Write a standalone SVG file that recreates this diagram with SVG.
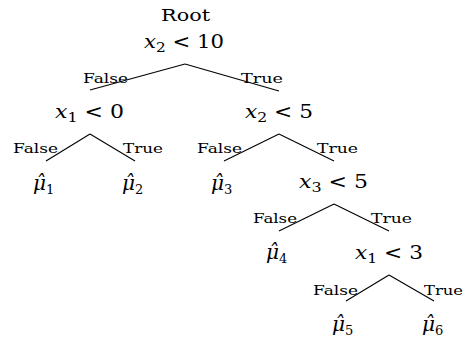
<svg xmlns="http://www.w3.org/2000/svg" width="465" height="342" viewBox="0 0 465 342">
<style>
text{font-family:'DejaVu Serif','Liberation Serif',serif;fill:#000}
.m{font-size:18px}
.mu{font-size:20px}
.i{font-style:italic}
.s{font-size:13px}
.lbl{font-size:13px}
.root{font-size:17px}
line{stroke:#000;stroke-width:1.1}
</style>
<rect width="465" height="342" fill="#fff"/>
<g id="connectors">
<line x1="185" y1="64" x2="90" y2="90"/>
<line x1="185" y1="64" x2="279" y2="91"/>
<line x1="90" y1="134" x2="46" y2="161"/>
<line x1="90" y1="134" x2="135" y2="161"/>
<line x1="279" y1="134" x2="224" y2="161"/>
<line x1="279" y1="134" x2="334" y2="161"/>
<line x1="334" y1="204" x2="279" y2="231"/>
<line x1="334" y1="204" x2="389" y2="231"/>
<line x1="389" y1="275" x2="346" y2="301"/>
<line x1="389" y1="275" x2="434" y2="301"/>
<text class="lbl" x="83" y="83" textLength="45" lengthAdjust="spacingAndGlyphs">False</text>
<text class="lbl" x="241" y="83" textLength="42" lengthAdjust="spacingAndGlyphs">True</text>
<text class="lbl" x="13" y="153" textLength="45" lengthAdjust="spacingAndGlyphs">False</text>
<text class="lbl" x="123" y="153" textLength="40" lengthAdjust="spacingAndGlyphs">True</text>
<text class="lbl" x="197" y="153" textLength="45" lengthAdjust="spacingAndGlyphs">False</text>
<text class="lbl" x="317" y="153" textLength="41" lengthAdjust="spacingAndGlyphs">True</text>
<text class="lbl" x="253" y="223" textLength="44" lengthAdjust="spacingAndGlyphs">False</text>
<text class="lbl" x="371" y="223" textLength="41" lengthAdjust="spacingAndGlyphs">True</text>
<text class="lbl" x="313" y="295" textLength="45" lengthAdjust="spacingAndGlyphs">False</text>
<text class="lbl" x="424" y="295" textLength="39" lengthAdjust="spacingAndGlyphs">True</text>
</g>
<g id="root">
<text class="root" x="161" y="21" textLength="49" lengthAdjust="spacingAndGlyphs">Root</text>
<text class="m" x="144" y="48" textLength="80" lengthAdjust="spacingAndGlyphs"><tspan class="i">x</tspan><tspan class="s" dy="4">2</tspan><tspan dy="-4"> &lt; 10</tspan></text>
</g>
<g id="node-x1-lt-0">
<text class="m" x="55" y="118" textLength="69" lengthAdjust="spacingAndGlyphs"><tspan class="i">x</tspan><tspan class="s" dy="4">1</tspan><tspan dy="-4"> &lt; 0</tspan></text>
</g>
<g id="node-x2-lt-5">
<text class="m" x="245" y="118" textLength="68" lengthAdjust="spacingAndGlyphs"><tspan class="i">x</tspan><tspan class="s" dy="4">2</tspan><tspan dy="-4"> &lt; 5</tspan></text>
</g>
<g id="node-x3-lt-5">
<text class="m" x="299" y="188" textLength="69" lengthAdjust="spacingAndGlyphs"><tspan class="i">x</tspan><tspan class="s" dy="4">3</tspan><tspan dy="-4"> &lt; 5</tspan></text>
</g>
<g id="node-x1-lt-3">
<text class="m" x="355" y="259" textLength="68" lengthAdjust="spacingAndGlyphs"><tspan class="i">x</tspan><tspan class="s" dy="4">1</tspan><tspan dy="-4"> &lt; 3</tspan></text>
</g>
<g id="leaf-mu1">
<text class="mu" x="33" y="190"><tspan class="i">μ̂</tspan><tspan class="s" dy="4">1</tspan></text>
</g>
<g id="leaf-mu2">
<text class="mu" x="122" y="190"><tspan class="i">μ̂</tspan><tspan class="s" dy="4">2</tspan></text>
</g>
<g id="leaf-mu3">
<text class="mu" x="211" y="190"><tspan class="i">μ̂</tspan><tspan class="s" dy="4">3</tspan></text>
</g>
<g id="leaf-mu4">
<text class="mu" x="266" y="259"><tspan class="i">μ̂</tspan><tspan class="s" dy="4">4</tspan></text>
</g>
<g id="leaf-mu5">
<text class="mu" x="332" y="331"><tspan class="i">μ̂</tspan><tspan class="s" dy="4">5</tspan></text>
</g>
<g id="leaf-mu6">
<text class="mu" x="422" y="331"><tspan class="i">μ̂</tspan><tspan class="s" dy="4">6</tspan></text>
</g>
</svg>
